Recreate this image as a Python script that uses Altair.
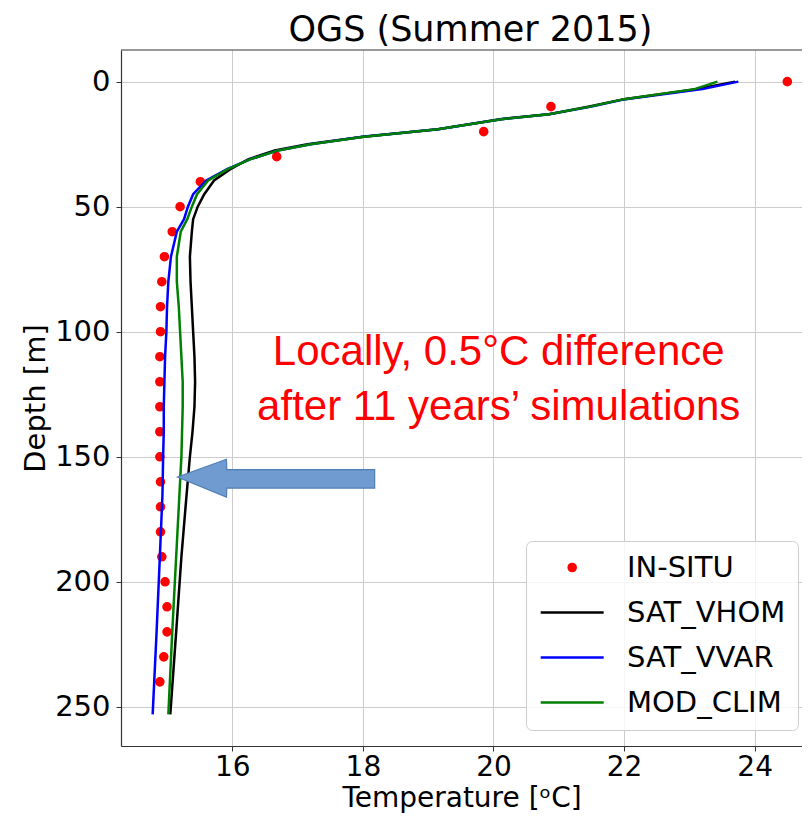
import altair as alt
import pandas as pd

# ---------------- data ----------------
series_names = ["IN-SITU", "SAT_VHOM", "SAT_VVAR", "MOD_CLIM"]
series_colors = ["#ff0000", "#000000", "#0000ff", "#008000"]

insitu_depth = [0, 10, 20, 30, 40, 50, 60, 70, 80, 90, 100, 110, 120,
                130, 140, 150, 160, 170, 180, 190, 200, 210, 220, 230, 240]
insitu_temp = [24.5, 20.88, 19.85, 16.68, 15.51, 15.2, 15.08, 14.96, 14.92,
               14.90, 14.90, 14.89, 14.89, 14.89, 14.89, 14.89, 14.90, 14.90,
               14.90, 14.92, 14.97, 15.00, 15.00, 14.95, 14.89]

model_depth = [0, 3, 7, 10, 13, 15, 19, 22, 25, 27.5, 31, 35, 39.5, 45, 50,
               55, 60, 70, 80, 90, 100, 110, 120, 130, 140, 150, 165, 190,
               220, 253]
sat_vhom = [23.7, 23.1, 22.0, 21.45, 20.85, 20.1, 19.15, 18.0, 17.15, 16.65,
            16.25, 15.97, 15.72, 15.57, 15.47, 15.40, 15.38, 15.35, 15.36,
            15.38, 15.40, 15.42, 15.43, 15.42, 15.39, 15.35, 15.30, 15.22,
            15.14, 15.05]
sat_vvar = [23.75, 23.2, 22.02, 21.5, 20.85, 20.12, 19.15, 18.0, 17.2, 16.7,
            16.28, 15.92, 15.6, 15.40, 15.32, 15.26, 15.15, 15.06, 15.02,
            15.0, 14.99, 14.97, 14.96, 14.95, 14.95, 14.94, 14.93, 14.89,
            14.84, 14.78]
mod_clim = [23.43, 23.08, 22.0, 21.48, 20.85, 20.12, 19.15, 18.02, 17.2, 16.7,
            16.28, 15.93, 15.63, 15.46, 15.38, 15.31, 15.21, 15.15, 15.15,
            15.18, 15.20, 15.22, 15.24, 15.24, 15.23, 15.22, 15.19, 15.14,
            15.08, 15.02]

x_ticks = [16, 18, 20, 22, 24]
y_ticks = [0, 50, 100, 150, 200, 250]
x_domain = [14.295, 24.725]
y_domain = [-12.65, 265.65]

# arrow annotation (polygon in data units)
arrow_x = [15.16, 15.91, 15.915, 18.18]
arrow_y = [158.1, 151.0, 155.1, 155.1]
arrow_y2 = [158.1, 166.1, 162.5, 162.5]

note_lines = ["Locally, 0.5°C difference", "after 11 years\u2019 simulations"]
note_x = [20.08, 20.08]
note_y = [113.4, 135.4]

title_text = "OGS (Summer 2015)"
x_title = "Temperature [\u1d52C]"
y_title = "Depth [m]"

PLOT_W = 681
PLOT_H = 696

# symbols (custom paths, unit = sqrt(size)/2 px): a horizontal line and a dot
# centred on the middle of that line
SYM_SIZE = 248
SYM_UNIT = (SYM_SIZE ** 0.5) / 2
LINE_SYMBOL = "M-1.5,0H6.5"
DOT_SYMBOL = "M2.95,0A0.45,0.45 0 1,1 2.05,0A0.45,0.45 0 1,1 2.95,0Z"
DOT_SHIFT = 2.5 * SYM_UNIT

# ---------------- tables ----------------
df_pts = pd.DataFrame({"series": "IN-SITU", "depth": insitu_depth, "temp": insitu_temp})
rows = []
for name, vals in [("SAT_VHOM", sat_vhom), ("SAT_VVAR", sat_vvar), ("MOD_CLIM", mod_clim)]:
    for d, t in zip(model_depth, vals):
        rows.append({"series": name, "depth": d, "temp": t})
df_lines = pd.DataFrame(rows)
df_arrow = pd.DataFrame({"temp": arrow_x, "depth": arrow_y, "depth2": arrow_y2})
df_note = pd.DataFrame({"text": note_lines, "temp": note_x, "depth": note_y})
df_one = pd.DataFrame({"k": [0]})

# ---------------- encodings ----------------
xs = alt.Scale(domain=x_domain, nice=False, zero=False)
ys = alt.Scale(domain=y_domain, reverse=True, nice=False, zero=False)
x_enc = alt.X("temp:Q", scale=xs, axis=alt.Axis(values=x_ticks, title=x_title,
              labelFontSize=28, titleFontSize=28))
y_enc = alt.Y("depth:Q", scale=ys, axis=alt.Axis(values=y_ticks, title=y_title))

color_scale = alt.Scale(domain=series_names, range=series_colors)

leg = alt.Legend(
    title=None, orient="none", legendX=405, legendY=491,
    labelFontSize=29, labelFont="DejaVu Sans", labelColor="black",
    padding=12, rowPadding=15, labelOffset=60,
    fillColor="rgba(255,255,255,0.8)", strokeColor="#cccccc",
    cornerRadius=6, symbolStrokeWidth=2.5, symbolSize=SYM_SIZE,
)

# in-situ observations (dot path shifted back onto its data position)
points = alt.Chart(df_pts).mark_point(
    filled=False, strokeWidth=2.5, opacity=1, size=SYM_SIZE, xOffset=-DOT_SHIFT
).encode(
    x=x_enc, y=y_enc,
    color=alt.Color("series:N", scale=color_scale, legend=leg),
    fill=alt.Fill("series:N", scale=alt.Scale(domain=series_names,
                  range=["#ff0000", "transparent", "transparent", "transparent"]), legend=leg),
    shape=alt.Shape("series:N", scale=alt.Scale(domain=series_names,
                    range=[DOT_SYMBOL, LINE_SYMBOL, LINE_SYMBOL, LINE_SYMBOL]), legend=leg),
)

def line_layer(name):
    return alt.Chart(df_lines).transform_filter(alt.datum.series == name).mark_line(
        strokeWidth=2.5).encode(
        x=x_enc, y=y_enc,
        color=alt.Color("series:N", scale=color_scale, legend=None),
        order=alt.Order("depth:Q"),
    )

arrow = alt.Chart(df_arrow).mark_area(
    fill="#6f9bd0", stroke="#4f7db3", strokeWidth=1.2, opacity=1
).encode(x=x_enc, y=y_enc, y2="depth2:Q")

note = alt.Chart(df_note).mark_text(
    font="Liberation Sans", fontSize=42, color="#ff0000",
    align="center", baseline="alphabetic"
).encode(x=x_enc, y=y_enc, text="text:N")

top_border = alt.Chart(df_one).mark_rule(color="#333333", strokeWidth=1.2).encode(
    x=alt.value(0), x2=alt.value(PLOT_W), y=alt.value(0)
)

chart = alt.layer(
    points, line_layer("SAT_VHOM"), line_layer("SAT_VVAR"), line_layer("MOD_CLIM"),
    arrow, note, top_border
).properties(
    width=PLOT_W, height=PLOT_H,
    autosize=alt.AutoSizeParams(type="none"),
    padding={"left": 113, "top": 42, "right": 0, "bottom": 67},
    title=alt.TitleParams(title_text, fontSize=35, font="DejaVu Sans",
                          fontWeight="normal", color="black", offset=1,
                          anchor="middle", dx=9),
).configure_view(
    stroke=None
).configure_axis(
    labelFont="DejaVu Sans", labelFontSize=29, labelColor="black",
    titleFont="DejaVu Sans", titleFontSize=29, titleFontWeight="normal", titleColor="black",
    gridColor="#cccccc", gridWidth=1, tickColor="#333333", tickSize=5,
    domain=True, domainColor="#333333", domainWidth=1.2,
).configure_axisX(
    labelPadding=2, titlePadding=3,
).configure_axisY(
    labelPadding=6, titlePadding=4,
)

chart.save("out.html", embed_options={"renderer": "svg", "actions": False})
